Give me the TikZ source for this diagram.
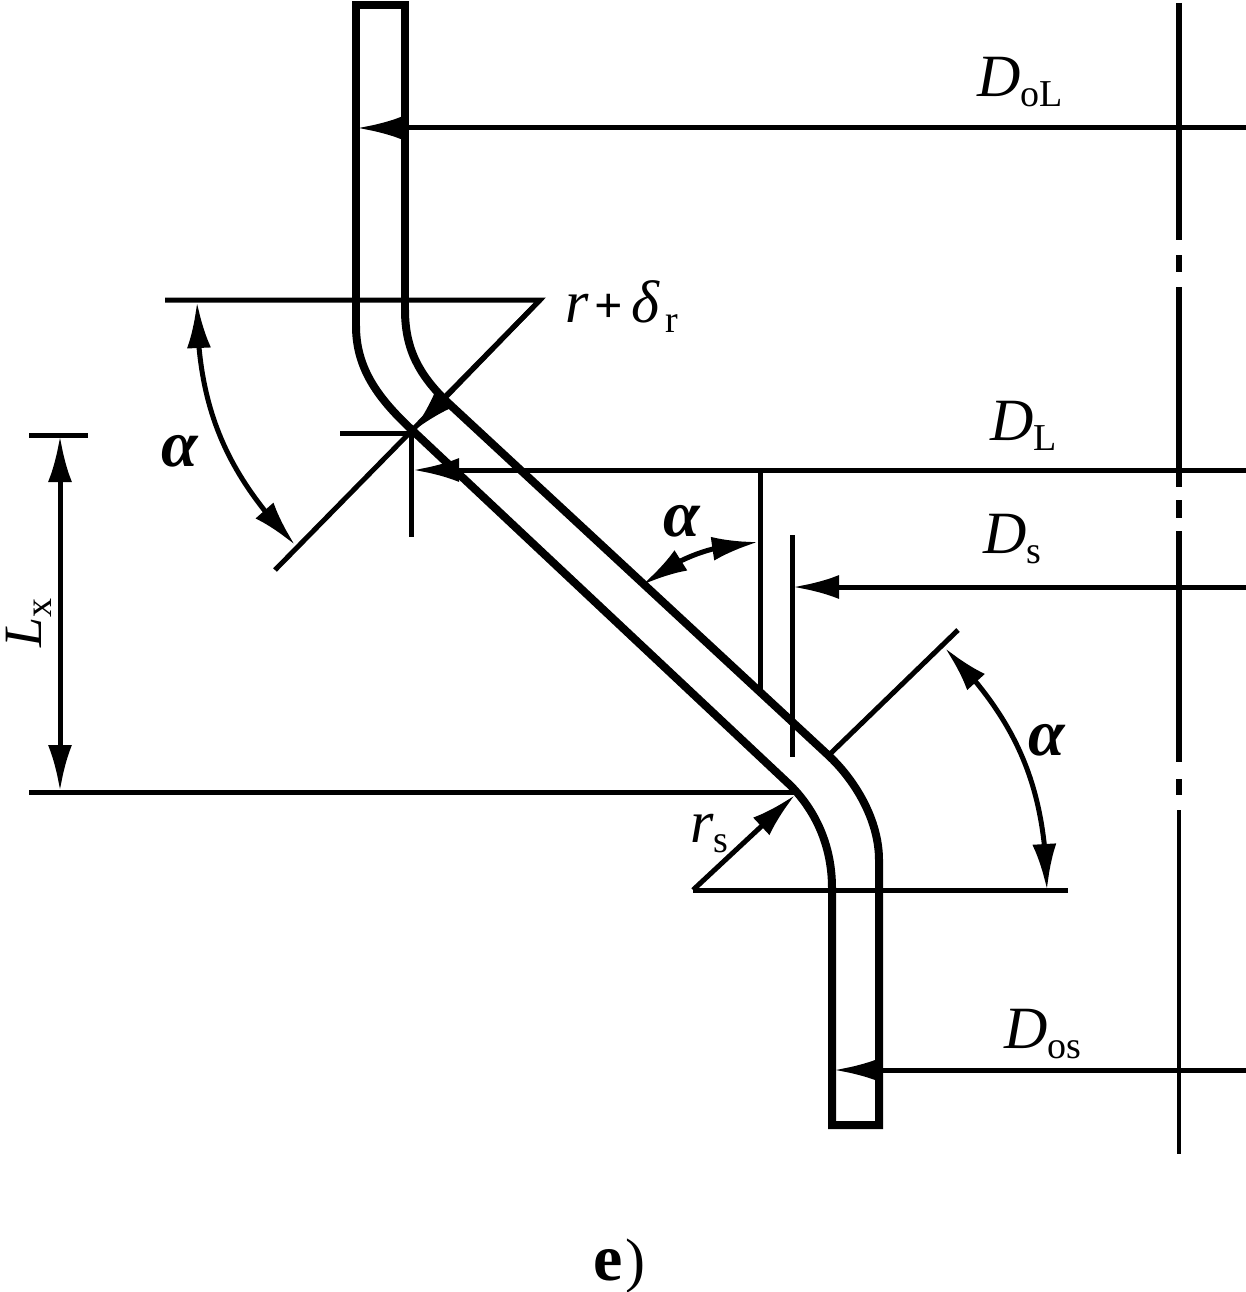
\documentclass[tikz,border=0pt]{standalone}
\usepackage{fontspec}
\setmainfont{Liberation Serif}
\usetikzlibrary{arrows.meta, bending}
\newcommand{\sublab}[2]{\textit{#1}\raisebox{-10pt}{\fontsize{38}{40}\selectfont #2}}
\tikzset{%
  dimline/.style={line width=5pt},
  tubeline/.style={line width=8pt, line join=miter},
  axisline/.style={line width=5.5pt},
  >={Latex[length=46pt,width=24pt,flex]},
  lab/.style={inner sep=0pt, anchor=base west, font=\fontsize{60}{66}\selectfont},
  anglelab/.style={lab, font=\fontsize{66}{70}\selectfont\bfseries\itshape}
}
\begin{document}
\begin{tikzpicture}[x=1pt, y=-1pt]
\useasboundingbox (0,0) rectangle (1246,1292);

% axis
\foreach \ya/\yb in {3/240, 255/272, 287/487, 500/518, 531/762, 779/795}
  \draw[axisline] (1179,\ya) -- (1179,\yb);
\draw[axisline, line width=4.5pt] (1179,810) -- (1179,1154);

\coordinate (t0) at (540,300);
\coordinate (t1) at (693,890);

% tube
\draw[tubeline] (356,330) -- (356,5) -- (405,5) -- (405,312);
\draw[tubeline] (356,326) .. controls (356,370) and (380,400) .. (412,430)
  -- (790,785) .. controls (815,810) and (832,845) .. (832,888) -- (832,1125)
  -- (879,1125) -- (879,860) .. controls (879,820) and (855,780) .. (828,755)
  -- (445,400) .. controls (420,375) and (405,350) .. (405,310);

% upper bend
\draw[dimline] (165,300) -- (t0) -- (275,570);
\draw[dimline] (340,433) -- (411,433) -- (411,537);
\draw[dimline, ->] (t0) -- (412,432);
\coordinate (a0) at (197,302);
\coordinate (a1) at (295,545);
\draw[dimline, <->] (a0) to[bend right=22] (a1);

% lower bend
\draw[dimline] (1068,890) -- (t1);
\draw[dimline] (831,753) -- (958,630);
\draw[dimline, ->] (t1) -- (795,795);
\coordinate (b0) at (945,648);
\coordinate (b1) at (1047,890);
\draw[dimline, <->] (b0) to[bend left=22] (b1);

% middle angle
\draw[dimline] (760,470) -- (760,692);
\draw[dimline] (792,535) -- (792,757);
\coordinate (c0) at (642,585);
\coordinate (c1) at (758,542);
\draw[dimline, <->] (c0) to[bend left=16] (c1);

% diameters
\draw[dimline, ->] (1246,128) -- (357,128);
\draw[dimline, ->] (1246,470) -- (413,470);
\draw[dimline, ->] (1246,587) -- (793,587);
\draw[dimline, ->] (1246,1070) -- (834,1070);

% length
\draw[dimline] (29,435) -- (88,435);
\draw[dimline] (29,792) -- (798,792);
\draw[dimline, <->] (60,436) -- (60,791);

% labels
\node[lab] (lDoL) at (977,97) {\sublab{D}{oL}};
\node[lab] (lDL) at (990,440) {\sublab{D}{L}};
\node[lab] (lDs) at (983,553) {\sublab{D}{s}};
\node[lab] (lDos) at (1004,1048) {\sublab{D}{os}};
\node[lab] (lr) at (565,322) {\textit{r}\kern6pt{\fontsize{50}{50}\selectfont\bfseries +}\kern8pt\sublab{δ}{\kern6pt r}};
\node[lab] (lrs) at (690,842) {\sublab{r}{s}};
\node[lab, rotate=90, font=\fontsize{54}{60}\selectfont] (lLx) at (41,648) {\sublab{L}{x}};
\node[anglelab] (la0) at (161,466) {α};
\node[anglelab] (la1) at (663,536) {α};
\node[anglelab] (la2) at (1028,755) {α};
\node[lab] (lcap) at (593,1280) {{\fontsize{66}{70}\selectfont\bfseries e}\kern3pt)};
\end{tikzpicture}
\end{document}
